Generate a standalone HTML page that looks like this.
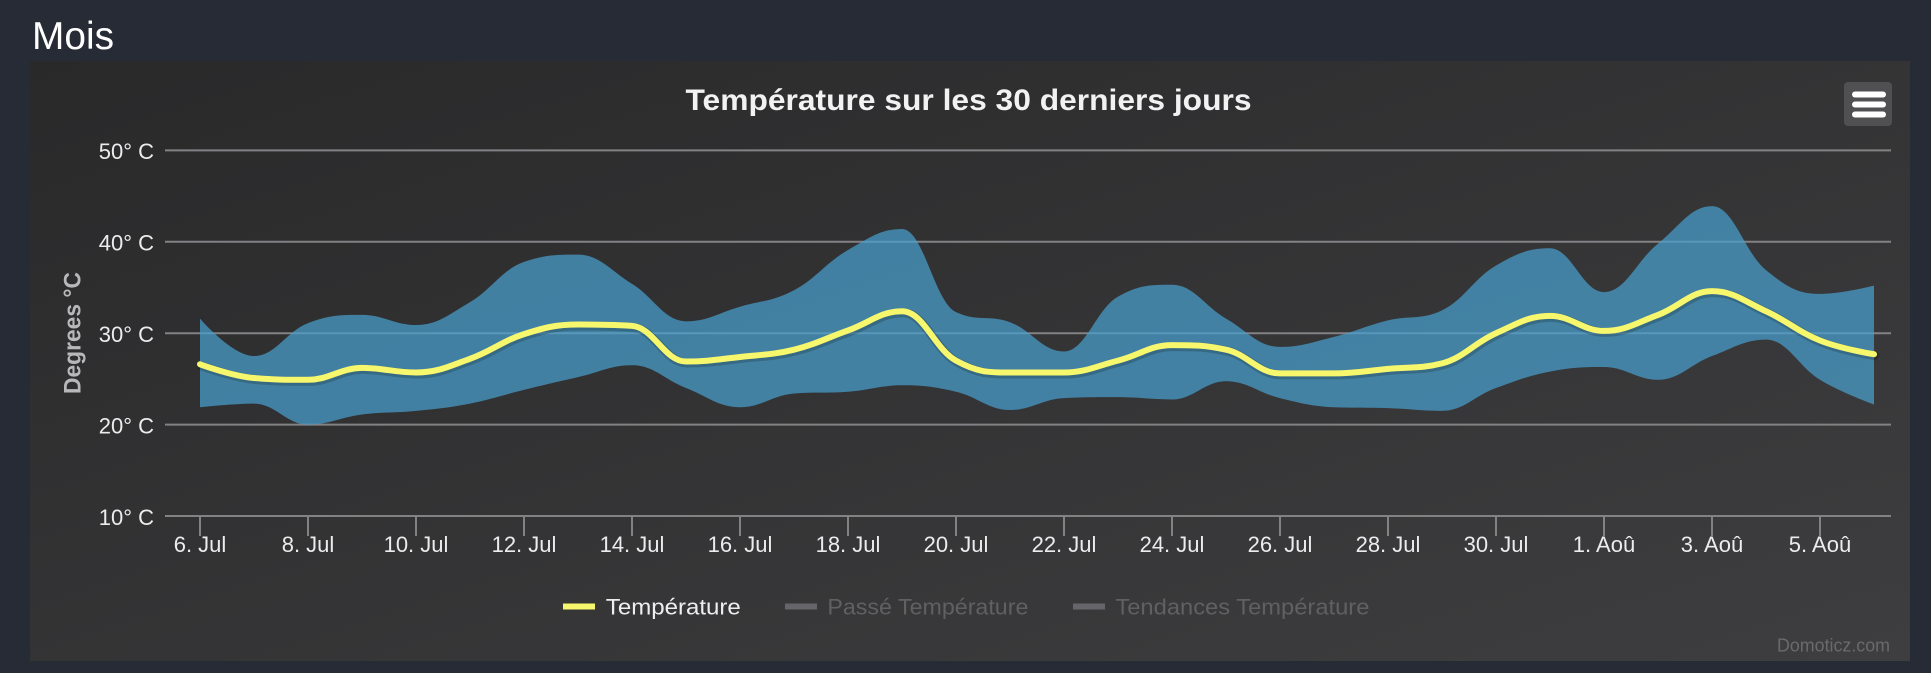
<!DOCTYPE html>
<html>
<head>
<meta charset="utf-8">
<style>
html,body{margin:0;padding:0;background:#272b36;width:1931px;height:673px;overflow:hidden}
svg{display:block}
text{font-family:"Liberation Sans",Arial,sans-serif}
</style>
</head>
<body>
<svg id="s" width="1931" height="673" viewBox="0 0 1931 673" xmlns="http://www.w3.org/2000/svg">
<defs>
<linearGradient id="bg" x1="0" y1="0" x2="1" y2="1">
<stop offset="0" stop-color="#29292a"/>
<stop offset="1" stop-color="#3e3e40"/>
</linearGradient>
</defs>
<rect x="0" y="0" width="1931" height="673" fill="#272b36"/>
<text x="32" y="49" font-size="39" fill="#ffffff" textLength="82" lengthAdjust="spacingAndGlyphs">Mois</text>
<rect x="30" y="61" width="1880" height="600" fill="url(#bg)"/>

<!-- title -->
<text x="968.5" y="110" font-size="30" font-weight="bold" fill="#f2f2f2" text-anchor="middle" textLength="566" lengthAdjust="spacingAndGlyphs">Température sur les 30 derniers jours</text>

<!-- menu button -->
<rect x="1844" y="82" width="48" height="44" rx="4" fill="#505053"/>
<rect x="1852" y="91.5" width="34" height="6" rx="3" fill="#ffffff"/>
<rect x="1852" y="101.5" width="34" height="6" rx="3" fill="#ffffff"/>
<rect x="1852" y="111.5" width="34" height="6" rx="3" fill="#ffffff"/>

<!-- grid -->
<g stroke="#828285" stroke-width="2">
<line x1="165" y1="150.4" x2="1891" y2="150.4"/>
<line x1="165" y1="241.8" x2="1891" y2="241.8"/>
<line x1="165" y1="333.2" x2="1891" y2="333.2"/>
<line x1="165" y1="424.6" x2="1891" y2="424.6"/>
<line x1="165" y1="516" x2="1891" y2="516"/>
</g>
<g id="ticks" stroke="#828285" stroke-width="2"></g>

<!-- y labels -->
<g font-size="22" fill="#ececee" text-anchor="end">
<text x="154" y="159">50° C</text>
<text x="154" y="250.5">40° C</text>
<text x="154" y="342">30° C</text>
<text x="154" y="433.5">20° C</text>
<text x="154" y="525">10° C</text>
</g>

<!-- y title -->
<text transform="translate(80.5,333) rotate(-90)" font-size="24" font-weight="bold" fill="#b8b8bb" text-anchor="middle" textLength="122" lengthAdjust="spacingAndGlyphs">Degrees °C</text>

<!-- x labels -->
<g font-size="22" fill="#ececee" text-anchor="middle">
<text x="200" y="552">6. Jul</text>
<text x="308" y="552">8. Jul</text>
<text x="416" y="552">10. Jul</text>
<text x="524" y="552">12. Jul</text>
<text x="632" y="552">14. Jul</text>
<text x="740" y="552">16. Jul</text>
<text x="848" y="552">18. Jul</text>
<text x="956" y="552">20. Jul</text>
<text x="1064" y="552">22. Jul</text>
<text x="1172" y="552">24. Jul</text>
<text x="1280" y="552">26. Jul</text>
<text x="1388" y="552">28. Jul</text>
<text x="1496" y="552">30. Jul</text>
<text x="1604" y="552">1. Aoû</text>
<text x="1712" y="552">3. Aoû</text>
<text x="1820" y="552">5. Aoû</text>
</g>

<!-- series -->
<g id="series"></g>

<!-- legend -->
<rect x="563" y="603.5" width="32" height="6" fill="#f7f76e"/>
<text x="605.8" y="614.3" font-size="22" fill="#eeeef0" textLength="135" lengthAdjust="spacingAndGlyphs">Température</text>
<rect x="785" y="603.5" width="32" height="6" fill="#66666a"/>
<text x="827.4" y="614.3" font-size="22" fill="#606063" textLength="201" lengthAdjust="spacingAndGlyphs">Passé Température</text>
<rect x="1073" y="603.5" width="32" height="6" fill="#66666a"/>
<text x="1115.4" y="614.3" font-size="22" fill="#606063" textLength="254" lengthAdjust="spacingAndGlyphs">Tendances Température</text>

<!-- credits -->
<text x="1890" y="651.5" font-size="18" fill="#6a6a6d" text-anchor="end" textLength="113" lengthAdjust="spacingAndGlyphs">Domoticz.com</text>
</svg>
<script>
(function(){
var NS="http://www.w3.org/2000/svg";
var mean=[26.6,25.1,24.9,26.2,25.7,27.2,29.9,30.95,30.8,26.9,27.4,28.2,30.3,32.4,27.0,25.7,25.7,27.0,28.7,28.2,25.6,25.6,26.1,26.7,30.0,31.9,30.25,32.0,34.6,32.4,29.2,27.7];
var hi=[31.6,27.5,31.1,32.0,30.9,33.4,37.8,38.6,35.4,31.3,32.9,34.7,39.1,41.4,32.3,31.2,28.0,34.0,35.3,31.6,28.5,29.6,31.4,32.5,37.4,39.3,34.5,39.8,43.9,36.9,34.3,35.2];
var lo=[21.9,22.3,20.0,21.1,21.5,22.3,23.8,25.2,26.5,24.0,21.9,23.4,23.6,24.3,23.6,21.6,22.9,23.0,22.75,24.75,22.9,21.9,21.8,21.5,24.0,25.8,26.3,24.9,27.5,29.3,24.9,22.2];
function X(d){return 200+54*d;}
function Y(t){return 516-(t-10)*9.14;}
function pts(a){return a.map(function(v,i){return [X(i),Y(v)];});}
function ctrls(p){
  var sm=1.5,den=2.5,out=[];
  for(var i=0;i<p.length;i++){
    if(i===0||i===p.length-1){out.push(null);continue;}
    var lx=p[i-1][0],ly=p[i-1][1],nx=p[i+1][0],ny=p[i+1][1],px=p[i][0],py=p[i][1];
    var lcx=(sm*px+lx)/den,lcy=(sm*py+ly)/den,rcx=(sm*px+nx)/den,rcy=(sm*py+ny)/den;
    if(rcx!==lcx){var corr=((rcy-lcy)*(rcx-px))/(rcx-lcx)+py-rcy;lcy+=corr;rcy+=corr;}
    if(lcy>ly&&lcy>py){lcy=Math.max(ly,py);rcy=2*py-lcy;}
    else if(lcy<ly&&lcy<py){lcy=Math.min(ly,py);rcy=2*py-lcy;}
    if(rcy>ny&&rcy>py){rcy=Math.max(ny,py);lcy=2*py-rcy;}
    else if(rcy<ny&&rcy<py){rcy=Math.min(ny,py);lcy=2*py-rcy;}
    out.push({lcx:lcx,lcy:lcy,rcx:rcx,rcy:rcy});
  }
  return out;
}
function f(a){return a[0].toFixed(2)+" "+a[1].toFixed(2);}
function spl(p,start){
  var s=start+f(p[0]);var c=ctrls(p);
  for(var i=1;i<p.length;i++){
    var a=c[i-1]?[c[i-1].rcx,c[i-1].rcy]:p[i-1];
    var b=c[i]?[c[i].lcx,c[i].lcy]:p[i];
    s+=" C"+f(a)+" "+f(b)+" "+f(p[i]);
  }
  return s;
}
var g=document.getElementById("series");
var area=document.createElementNS(NS,"path");
area.setAttribute("d",spl(pts(hi),"M")+" "+spl(pts(lo).reverse(),"L")+" Z");
area.setAttribute("fill","rgb(72,160,205)");
area.setAttribute("fill-opacity","0.72");
g.appendChild(area);
var ld=spl(pts(mean),"M");
var sh=document.createElementNS(NS,"path");
sh.setAttribute("d",ld);sh.setAttribute("fill","none");
sh.setAttribute("stroke","rgba(0,0,0,0.18)");sh.setAttribute("stroke-width","9");
sh.setAttribute("transform","translate(1,1.5)");sh.setAttribute("stroke-linecap","round");sh.setAttribute("stroke-linejoin","round");
g.appendChild(sh);
var line=document.createElementNS(NS,"path");
line.setAttribute("d",ld);line.setAttribute("fill","none");
line.setAttribute("stroke","#f7f76e");line.setAttribute("stroke-width","6");
line.setAttribute("stroke-linecap","round");line.setAttribute("stroke-linejoin","round");
g.appendChild(line);
var t=document.getElementById("ticks");
for(var k=0;k<16;k++){
  var l=document.createElementNS(NS,"line");
  var x=200+108*k;
  l.setAttribute("x1",x);l.setAttribute("x2",x);l.setAttribute("y1",516);l.setAttribute("y2",536);
  t.appendChild(l);
}
})();
</script>
</body>
</html>
